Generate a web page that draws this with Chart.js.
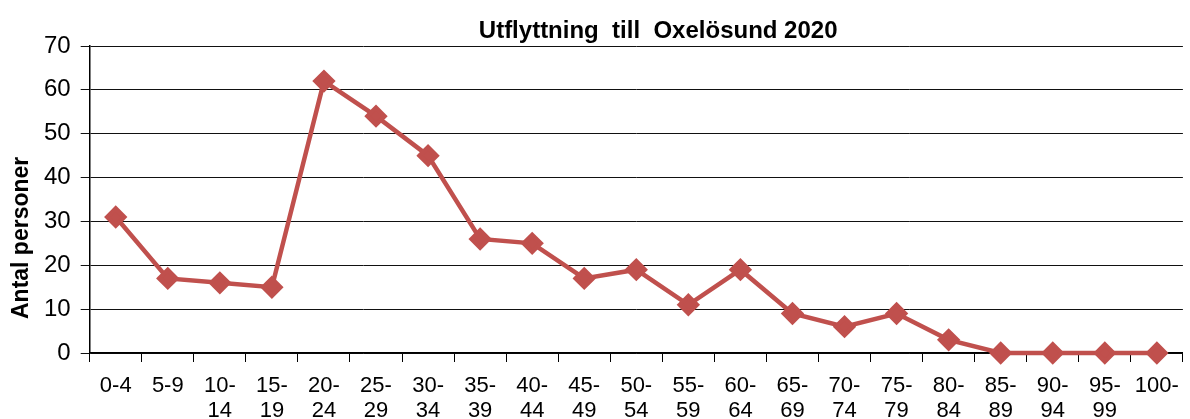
<!DOCTYPE html>
<html>
<head>
<meta charset="utf-8">
<script src="https://cdn.jsdelivr.net/npm/chart.js@4/dist/chart.umd.min.js"></script>
<style>
  html, body { margin: 0; padding: 0; background: #fff; }
  #wrap { width: 1190px; height: 419px; }
</style>
</head>
<body>
<div id="wrap"><canvas id="chart"></canvas></div>
<script>
// age groups, two-line labels like the original
var ageGroups = [
  ['0-4'], ['5-9'], ['10-', '14'], ['15-', '19'], ['20-', '24'], ['25-', '29'],
  ['30-', '34'], ['35-', '39'], ['40-', '44'], ['45-', '49'], ['50-', '54'],
  ['55-', '59'], ['60-', '64'], ['65-', '69'], ['70-', '74'], ['75-', '79'],
  ['80-', '84'], ['85-', '89'], ['90-', '94'], ['95-', '99'], ['100-']
];
var movedOut = [31, 17, 16, 15, 62, 54, 45, 26, 25, 17, 19, 11, 19, 9, 6, 9, 3, 0, 0, 0, 0];
var chartTitle = 'Utflyttning  till  Oxelösund 2020';
var yTitle = 'Antal personer';

// titles drawn off-centre, the way the original sits them
var titles = {
  id: 'titles',
  afterDraw: function(chart) {
    var c = chart.ctx, a = chart.chartArea;
    c.save();
    c.fillStyle = '#000';
    c.textBaseline = 'middle';
    c.textAlign = 'center';
    c.font = 'bold 24px "Liberation Sans"';
    c.fillText(chartTitle, a.left + (a.right - a.left) * 0.52, 31);
    c.translate(22, a.top + (a.bottom - a.top) * 0.625);
    c.rotate(-Math.PI / 2);
    c.font = 'bold 23px "Liberation Sans"';
    c.fillText(yTitle, 0, 0);
    c.restore();
  }
};

var ctx = document.getElementById('chart');
var myChart = new Chart(ctx, {
  type: 'line',
  data: {
    labels: ageGroups,
    datasets: [{
      data: movedOut,
      borderColor: '#C0504D',
      backgroundColor: '#C0504D',
      borderWidth: 4.5,
      pointStyle: 'rectRot',
      pointRadius: 8.5,
      pointHoverRadius: 8.5,
      tension: 0,
      clip: false
    }]
  },
  options: {
    responsive: true,
    maintainAspectRatio: false,
    animation: false,
    layout: { autoPadding: false, padding: { left: 34, right: 5, top: 46, bottom: 0 } },
    plugins: {
      legend: { display: false },
      tooltip: { enabled: false },
      title: { display: false }
    },
    scales: {
      x: {
        offset: true,
        afterFit: function(scale) { scale.height = 66; },
        grid: {
          offset: true,
          drawOnChartArea: false,
          tickLength: 9,
          color: '#000'
        },
        border: { color: '#000', width: 1.5 },
        ticks: {
          color: '#000',
          maxRotation: 0,
          autoSkip: false,
          padding: 11,
          font: { family: 'Liberation Sans', size: 22, lineHeight: 1.14 }
        }
      },
      y: {
        min: 0,
        max: 70,
        ticks: {
          stepSize: 10,
          color: '#000',
          padding: 10,
          font: { family: 'Liberation Sans', size: 24 }
        },
        grid: { color: '#111', lineWidth: 1, tickLength: 9 },
        border: { color: '#000', width: 1.5 }
      }
    }
  },
  plugins: [titles]
});
</script>
</body>
</html>
